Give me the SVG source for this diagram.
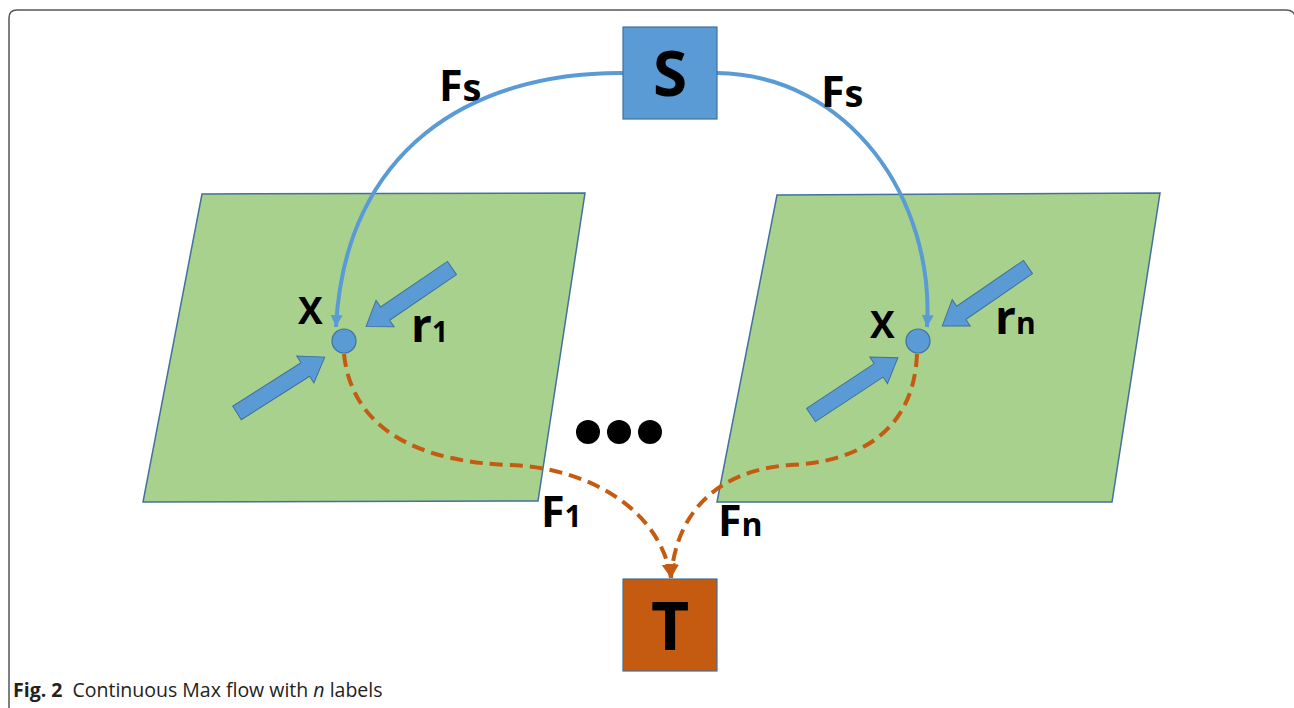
<svg xmlns="http://www.w3.org/2000/svg" width="1294" height="708" viewBox="0 0 1294 708">
  <style>
    .plane { fill: #A9D18E; stroke: #41719C; stroke-width: 1.5; }
    .blk { fill: #5B9BD5; stroke: #41719C; stroke-width: 1; }
    .node { fill: #5B9BD5; stroke: #41719C; stroke-width: 1.2; }
    .sflow { fill: none; stroke: #5B9BD5; stroke-width: 4; }
    .tflow { fill: none; stroke: #C55A11; stroke-width: 4; stroke-dasharray: 13 7; }
    .lbl { font-family: "Open Sans", "Liberation Sans", sans-serif; font-weight: bold; fill: #000; }
    .cap { font-family: "Open Sans", "Liberation Sans", sans-serif; font-size: 19.5px; fill: #222; }
  </style>
  <defs>
    <marker id="ahBlue" markerUnits="userSpaceOnUse" markerWidth="14" markerHeight="14" refX="12" refY="6" orient="auto">
      <path d="M0,0 L12,6 L0,12 z" fill="#5B9BD5"/>
    </marker>
    <marker id="ahOrange" markerUnits="userSpaceOnUse" markerWidth="16" markerHeight="16" refX="14" refY="7" orient="auto">
      <path d="M0,0 L14,7 L0,14 z" fill="#C55A11"/>
    </marker>
    <polygon id="blockArrow" points="0,-8 81,-8 81,-16 104,0 81,16 81,8 0,8"/>
  </defs>

  <!-- frame -->
  <path d="M9,712 L9,18 Q9,10 17,10 L1286,10 Q1294,10 1296,18" fill="none" stroke="#555" stroke-width="1.5"/>

  <!-- planes -->
  <g id="plane1">
    <polygon class="plane" points="202,194 585,193 538,501 143,502"/>
  </g>
  <g id="planeN">
    <polygon class="plane" points="777,195 1160,193 1112,502 717,502"/>
  </g>

  <!-- block arrows (r) -->
  <g id="rArrows" class="blk">
    <use href="#blockArrow" transform="translate(452,268) rotate(145.7)"/>
    <use href="#blockArrow" transform="translate(237,413) rotate(-32.5)"/>
    <use href="#blockArrow" transform="translate(1028,267) rotate(145.5)"/>
    <use href="#blockArrow" transform="translate(811,415) rotate(-33.4)"/>
  </g>

  <!-- connectors -->
  <g id="connectors">
    <path class="sflow" d="M623,73 C470,72 345,150 336,327" marker-end="url(#ahBlue)"/>
    <path class="sflow" d="M717,73 C850,75 935,200 927,327" marker-end="url(#ahBlue)"/>
    <path class="tflow" d="M344,354 C352,430 420,462 510,465 C590,468 660,510 671,578" marker-end="url(#ahOrange)"/>
    <path class="tflow" d="M917,354 C914,430 860,462 790,465 C720,470 676,510 671,578" marker-end="url(#ahOrange)"/>
  </g>

  <!-- nodes -->
  <g id="nodeS">
    <rect x="623" y="27" width="94" height="92" class="node"/>
    <text x="670" y="96" text-anchor="middle" class="lbl" font-size="62">S</text>
  </g>
  <g id="nodeT">
    <rect x="623" y="579" width="94" height="92" fill="#C55A11" stroke="#41719C" stroke-width="1.2"/>
    <text x="670" y="650" text-anchor="middle" class="lbl" font-size="66">T</text>
  </g>
  <g id="x1">
    <circle cx="344" cy="341" r="12" class="node"/>
    <text x="298" y="324" class="lbl" font-size="37">X</text>
  </g>
  <g id="xn">
    <circle cx="918" cy="341" r="12" class="node"/>
    <text x="870" y="338" class="lbl" font-size="37">X</text>
  </g>

  <!-- labels -->
  <g id="labels" class="lbl">
    <text x="439" y="101" font-size="43">F<tspan font-size="38">s</tspan></text>
    <text x="821" y="107" font-size="43">F<tspan font-size="38">s</tspan></text>
    <text x="411" y="342" font-size="46">r<tspan font-size="28">1</tspan></text>
    <text x="995" y="334" font-size="46">r<tspan font-size="30">n</tspan></text>
    <text x="541" y="527" font-size="43">F<tspan font-size="30">1</tspan></text>
    <text x="718" y="536" font-size="43">F<tspan font-size="32">n</tspan></text>
  </g>

  <!-- ellipsis -->
  <g id="dots" fill="#000">
    <circle cx="588" cy="432" r="12"/>
    <circle cx="619" cy="432" r="12"/>
    <circle cx="650" cy="432" r="12"/>
  </g>

  <!-- caption -->
  <text x="13" y="697" class="cap"><tspan font-weight="bold">Fig. 2</tspan><tspan dx="10">Continuous Max flow with </tspan><tspan font-style="italic">n</tspan> labels</text>
</svg>
